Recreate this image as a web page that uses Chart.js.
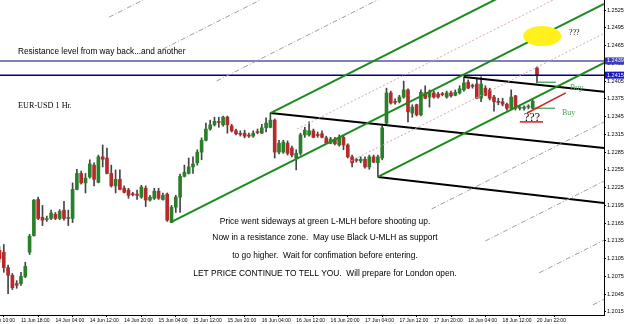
<!DOCTYPE html>
<html>
<head>
<meta charset="utf-8">
<script src="https://cdn.jsdelivr.net/npm/chart.js@4.4.0/dist/chart.umd.min.js"></script>
<style>
  html, body { margin: 0; padding: 0; background: #fff; }
  canvas { display: block; }
</style>
</head>
<body>
<canvas id="c" width="625" height="324"></canvas>
<script>
// EUR/USD 1h candles, bar index 0 = 11 Jun 18:00
const firstBar = -5;
const opens = [1.2119,1.2116,1.2090,1.2077,1.2063,1.2063,1.2075,1.2116,1.2144,1.2205,
  1.2175,1.2171,1.2173,1.2180,1.2173,1.2187,1.2173,1.2173,1.2222,1.2249,
  1.2233,1.2243,1.2263,1.2234,1.2277,1.2275,1.2249,1.2228,1.2239,1.2224,
  1.2221,1.2214,1.2214,1.2209,1.2224,1.2204,1.2207,1.2219,1.2205,1.2214,
  1.2166,1.2192,1.2209,1.2244,1.2249,1.2260,1.2267,1.2285,1.2305,1.2324,
  1.2331,1.2336,1.2331,1.2344,1.2329,1.2321,1.2316,1.2317,1.2314,1.2312,
  1.2319,1.2317,1.2326,1.2327,1.2339,1.2285,1.2285,1.2300,1.2292,1.2275,
  1.2283,1.2314,1.2314,1.2321,1.2314,1.2316,1.2309,1.2300,1.2307,1.2297,
  1.2310,1.2297,1.2277,1.2272,1.2270,1.2273,1.2260,1.2277,1.2267,1.2275,
  1.2334,1.2385,1.2370,1.2370,1.2378,1.2390,1.2351,1.2365,1.2348,1.2385,
  1.2378,1.2385,1.2383,1.2383,1.2378,1.2385,1.2381,1.2385,1.2390,1.2403,
  1.2397,1.2400,1.2376,1.2393,1.2390,1.2378,1.2370,1.2370,1.2366,1.2359,
  1.2380,1.2359,1.2359,1.2361,1.2359,1.2427];
const highs = [1.2126,1.2129,1.2094,1.2080,1.2068,1.2082,1.2099,1.2146,1.2205,1.2209,
  1.2195,1.2177,1.2187,1.2183,1.2188,1.2202,1.2187,1.2233,1.2256,1.2253,
  1.2249,1.2272,1.2267,1.2280,1.2297,1.2292,1.2263,1.2255,1.2255,1.2228,
  1.2224,1.2217,1.2221,1.2229,1.2228,1.2212,1.2224,1.2224,1.2216,1.2216,
  1.2195,1.2212,1.2248,1.2263,1.2275,1.2277,1.2289,1.2309,1.2334,1.2339,
  1.2344,1.2344,1.2346,1.2346,1.2332,1.2324,1.2321,1.2322,1.2317,1.2321,
  1.2324,1.2332,1.2343,1.2351,1.2341,1.2305,1.2305,1.2304,1.2295,1.2289,
  1.2317,1.2327,1.2336,1.2324,1.2319,1.2321,1.2312,1.2310,1.2310,1.2314,
  1.2314,1.2299,1.2280,1.2275,1.2277,1.2277,1.2280,1.2280,1.2280,1.2329,
  1.2393,1.2388,1.2375,1.2381,1.2405,1.2392,1.2365,1.2366,1.2390,1.2397,
  1.2390,1.2388,1.2386,1.2386,1.2388,1.2388,1.2390,1.2397,1.2412,1.2407,
  1.2400,1.2410,1.2412,1.2397,1.2393,1.2381,1.2376,1.2376,1.2368,1.2390,
  1.2381,1.2363,1.2363,1.2365,1.2373,1.2429];
const lows = [1.2099,1.2082,1.2046,1.2053,1.2055,1.2060,1.2073,1.2112,1.2143,1.2171,
  1.2161,1.2168,1.2171,1.2171,1.2171,1.2170,1.2161,1.2166,1.2221,1.2231,
  1.2216,1.2241,1.2228,1.2233,1.2260,1.2248,1.2226,1.2216,1.2221,1.2216,
  1.2207,1.2211,1.2205,1.2207,1.2193,1.2202,1.2205,1.2205,1.2204,1.2168,
  1.2166,1.2183,1.2183,1.2243,1.2248,1.2249,1.2263,1.2272,1.2304,1.2322,
  1.2329,1.2327,1.2329,1.2317,1.2319,1.2314,1.2312,1.2309,1.2310,1.2310,
  1.2316,1.2316,1.2319,1.2326,1.2275,1.2282,1.2283,1.2280,1.2277,1.2255,
  1.2280,1.2310,1.2312,1.2309,1.2310,1.2309,1.2299,1.2299,1.2297,1.2295,
  1.2289,1.2275,1.2260,1.2268,1.2267,1.2258,1.2256,1.2267,1.2243,1.2272,
  1.2332,1.2366,1.2366,1.2368,1.2376,1.2336,1.2344,1.2346,1.2346,1.2375,
  1.2361,1.2376,1.2376,1.2380,1.2376,1.2378,1.2380,1.2383,1.2388,1.2392,
  1.2393,1.2375,1.2370,1.2380,1.2373,1.2354,1.2365,1.2363,1.2356,1.2358,
  1.2356,1.2356,1.2356,1.2358,1.2358,1.2402];
const closes = [1.2105,1.2090,1.2077,1.2056,1.2060,1.2075,1.2092,1.2143,1.2204,1.2173,
  1.2170,1.2172,1.2182,1.2173,1.2185,1.2173,1.2174,1.2222,1.2249,1.2233,
  1.2241,1.2265,1.2239,1.2277,1.2273,1.2249,1.2228,1.2239,1.2222,1.2217,
  1.2212,1.2213,1.2212,1.2226,1.2204,1.2209,1.2219,1.2207,1.2212,1.2170,
  1.2192,1.2209,1.2244,1.2251,1.2260,1.2265,1.2285,1.2305,1.2324,1.2331,
  1.2337,1.2335,1.2344,1.2331,1.2321,1.2316,1.2315,1.2312,1.2312,1.2317,
  1.2318,1.2326,1.2334,1.2339,1.2285,1.2300,1.2302,1.2283,1.2280,1.2283,
  1.2314,1.2322,1.2321,1.2310,1.2313,1.2310,1.2300,1.2307,1.2299,1.2310,
  1.2297,1.2277,1.2267,1.2271,1.2273,1.2260,1.2277,1.2268,1.2277,1.2326,
  1.2385,1.2368,1.2369,1.2378,1.2390,1.2353,1.2361,1.2348,1.2386,1.2376,
  1.2386,1.2378,1.2378,1.2382,1.2385,1.2380,1.2386,1.2392,1.2402,1.2393,
  1.2396,1.2376,1.2400,1.2381,1.2376,1.2370,1.2369,1.2366,1.2359,1.2378,
  1.2359,1.2360,1.2361,1.2362,1.2371,1.2415];

const tickBars = [-8, 0, 8, 16, 24, 32, 40, 48, 56, 64, 72, 80, 88, 96, 104, 112, 120];
const tickLabels = ['11 Jun 10:00', '11 Jun 18:00', '14 Jun 04:00', '14 Jun 12:00', '14 Jun 20:00',
  '15 Jun 04:00', '15 Jun 12:00', '15 Jun 20:00', '16 Jun 04:00', '16 Jun 12:00', '16 Jun 20:00',
  '17 Jun 04:00', '17 Jun 12:00', '17 Jun 20:00', '18 Jun 04:00', '18 Jun 12:00', '20 Jun 22:00'];
const priceTicks = [1.2015, 1.2045, 1.2075, 1.2105, 1.2135, 1.2165, 1.2195, 1.2225, 1.2255, 1.2285,
  1.2315, 1.2345, 1.2375, 1.2405, 1.2435, 1.2465, 1.2495, 1.2525];

// green pitchfork pivots (bar, price)
const forkBars = [35, 58, 83];
const forkPrices = [1.2167, 1.2351, 1.2243];
const forkSolid = [0, 1, -1];
const forkDashed = [2, 3, 4, -2, -3, -4, -5];
const forkDotted = [0.5, -0.5];
// black lines: start bar, start price, end price at right edge
const blackStarts = [[58, 1.2351], [83, 1.2243], [103, 1.2412]];
const blackEnds = [1.2292, 1.2199, 1.2387];
const resistance = [1.2439, 1.2415];
const redLines = [[117.7, 1.2351, 126.7, 1.2385], [116.0, 1.2336, 121.4, 1.2336]];
const buyLines = [[120.0, 1.2403, 124.4, 1.2403], [119.5, 1.2359, 124.2, 1.2359]];
const ellipseAt = [121.2, 1.2481];

const xMin = -4.88, xMax = 135.58;
const yMin = 1.20099, yMax = 1.25419;

const bars = opens.map((o, i) => firstBar + i);

function seg(pts, color, width, dash) {
  return { type: 'line', data: pts, borderColor: color, borderWidth: width, borderDash: dash || [],
    pointRadius: 0, fill: false, tension: 0, order: 0 };
}

const lineSets = [];
const km = (forkBars[1] + forkBars[2]) / 2, pm = (forkPrices[1] + forkPrices[2]) / 2;
const slope = (pm - forkPrices[0]) / (km - forkBars[0]);
function tine(t) {
  const ks = t === 0 ? forkBars[0] : km + t * (forkBars[1] - km);
  const ps = t === 0 ? forkPrices[0] : pm + t * (forkPrices[1] - pm);
  return [{ x: ks, y: ps }, { x: xMax, y: ps + slope * (xMax - ks) }];
}
forkDashed.forEach(t => lineSets.push(seg(tine(t), '#a89a9a', 1, [5, 2, 1, 2])));
forkDotted.forEach(t => lineSets.push(seg(tine(t), '#d8a6a6', 1, [2, 2])));
forkSolid.forEach(t => lineSets.push(seg(tine(t), '#1c8a1c', 2)));
blackStarts.forEach((s, i) => lineSets.push(seg([{ x: s[0], y: s[1] }, { x: xMax, y: blackEnds[i] }], '#000', 2)));
resistance.forEach((p, i) => lineSets.push(seg([{ x: xMin, y: p }, { x: xMax, y: p }], i === 0 ? '#5656a8' : '#000080', 1.5)));
redLines.forEach(r => lineSets.push(seg([{ x: r[0], y: r[1] }, { x: r[2], y: r[3] }], '#d02020', 1.5)));
buyLines.forEach(r => lineSets.push(seg([{ x: r[0], y: r[1] }, { x: r[2], y: r[3] }], '#5fae70', 1.5)));

const up = bars.map((k, i) => closes[i] >= opens[i]);
const wickSet = {
  type: 'bar', data: bars.map((k, i) => ({ x: k, y: [lows[i], highs[i]] })),
  backgroundColor: '#444', barThickness: 1, grouped: false, order: 2
};
const bodySet = {
  type: 'bar', data: bars.map((k, i) => ({ x: k, y: [opens[i], closes[i]] })),
  backgroundColor: up.map(u => u ? '#2a7f2a' : '#b52a2a'), barThickness: 3, minBarLength: 1,
  grouped: false, order: 1
};

const notes = [
  { t: 'Resistance level from way back...and another', x: 18, y: 52, f: '8.3px "Liberation Sans"', a: 'left', c: '#000' },
  { t: 'EUR-USD 1 Hr.', x: 18, y: 106, f: '8.2px "Liberation Serif"', a: 'left', c: '#000' },
  { t: 'Price went sideways at green L-MLH before shooting up.', x: 325, y: 222, f: '8.4px "Liberation Sans"', a: 'center', c: '#000' },
  { t: 'Now in a resistance zone.  May use Black U-MLH as support', x: 325, y: 238, f: '8.4px "Liberation Sans"', a: 'center', c: '#000' },
  { t: 'to go higher.  Wait for confimation before entering.', x: 325, y: 256, f: '8.4px "Liberation Sans"', a: 'center', c: '#000' },
  { t: 'LET PRICE CONTINUE TO TELL YOU.  Will prepare for London open.', x: 325, y: 274, f: '8.4px "Liberation Sans"', a: 'center', c: '#000' },
  { t: 'Buy', x: 570, y: 88, f: '8px "Liberation Serif"', a: 'left', c: '#4fa060' },
  { t: 'Buy', x: 562, y: 113, f: '8px "Liberation Serif"', a: 'left', c: '#4fa060' },
  { t: '???', x: 569, y: 33, f: '8px "Liberation Serif"', a: 'left', c: '#000' },
  { t: '???', x: 524, y: 118, f: '12px "Liberation Serif"', a: 'left', c: '#000' }
];

const notesPlugin = {
  id: 'notes',
  afterDatasetsDraw(chart) {
    const { ctx, scales: { x, y } } = chart;
    ctx.save();
    ctx.fillStyle = '#fff01e';
    ctx.beginPath();
    ctx.ellipse(x.getPixelForValue(ellipseAt[0]), y.getPixelForValue(ellipseAt[1]), 19, 10, 0, 0, Math.PI * 2);
    ctx.fill();
    ctx.textBaseline = 'middle';
    notes.forEach(n => {
      ctx.font = n.f; ctx.fillStyle = n.c; ctx.textAlign = n.a;
      ctx.fillText(n.t, n.x, n.y);
    });
    ctx.restore();
  },
  afterDraw(chart) {
    const { ctx, chartArea, scales: { y } } = chart;
    ctx.save();
    ctx.font = '5.5px "Liberation Sans"';
    ctx.textBaseline = 'middle';
    ctx.textAlign = 'left';
    resistance.forEach((p, i) => {
      const py = y.getPixelForValue(p);
      ctx.fillStyle = i === 0 ? '#3a3ac8' : '#1414c8';
      ctx.fillRect(chartArea.right + 1, py - 3.5, 19, 7);
      ctx.fillStyle = '#fff';
      ctx.fillText(p.toFixed(4), chartArea.right + 3, py);
    });
    ctx.restore();
  }
};

new Chart(document.getElementById('c'), {
  type: 'bar',
  data: { datasets: [...lineSets, bodySet, wickSet] },
  options: {
    responsive: false, animation: false, devicePixelRatio: 1,
    layout: { padding: 0 },
    plugins: { legend: { display: false }, tooltip: { enabled: false } },
    scales: {
      x: {
        type: 'linear', min: xMin, max: xMax, offset: false,
        grid: { drawOnChartArea: false, tickLength: 2, color: '#000' },
        border: { color: '#000' },
        ticks: {
          align: 'start', maxRotation: 0, minRotation: 0, autoSkip: false, padding: 1,
          color: '#000', font: { family: 'Liberation Sans', size: 5 },
          callback: v => tickLabels[tickBars.indexOf(v)]
        },
        afterBuildTicks: s => { s.ticks = tickBars.map(v => ({ value: v })); },
        afterFit: s => { s.height = 9; s.paddingLeft = 0; s.paddingRight = 0; }
      },
      y: {
        position: 'right', min: yMin, max: yMax,
        grid: { drawOnChartArea: false, tickLength: 2, color: '#000' },
        border: { color: '#000' },
        ticks: {
          padding: 1, color: '#000', font: { family: 'Liberation Sans', size: 5.5 },
          callback: v => v.toFixed(4)
        },
        afterBuildTicks: s => { s.ticks = priceTicks.map(v => ({ value: v })); },
        afterFit: s => { s.width = 21; s.paddingTop = 0; s.paddingBottom = 0; }
      }
    }
  },
  plugins: [notesPlugin]
});
</script>
</body>
</html>
